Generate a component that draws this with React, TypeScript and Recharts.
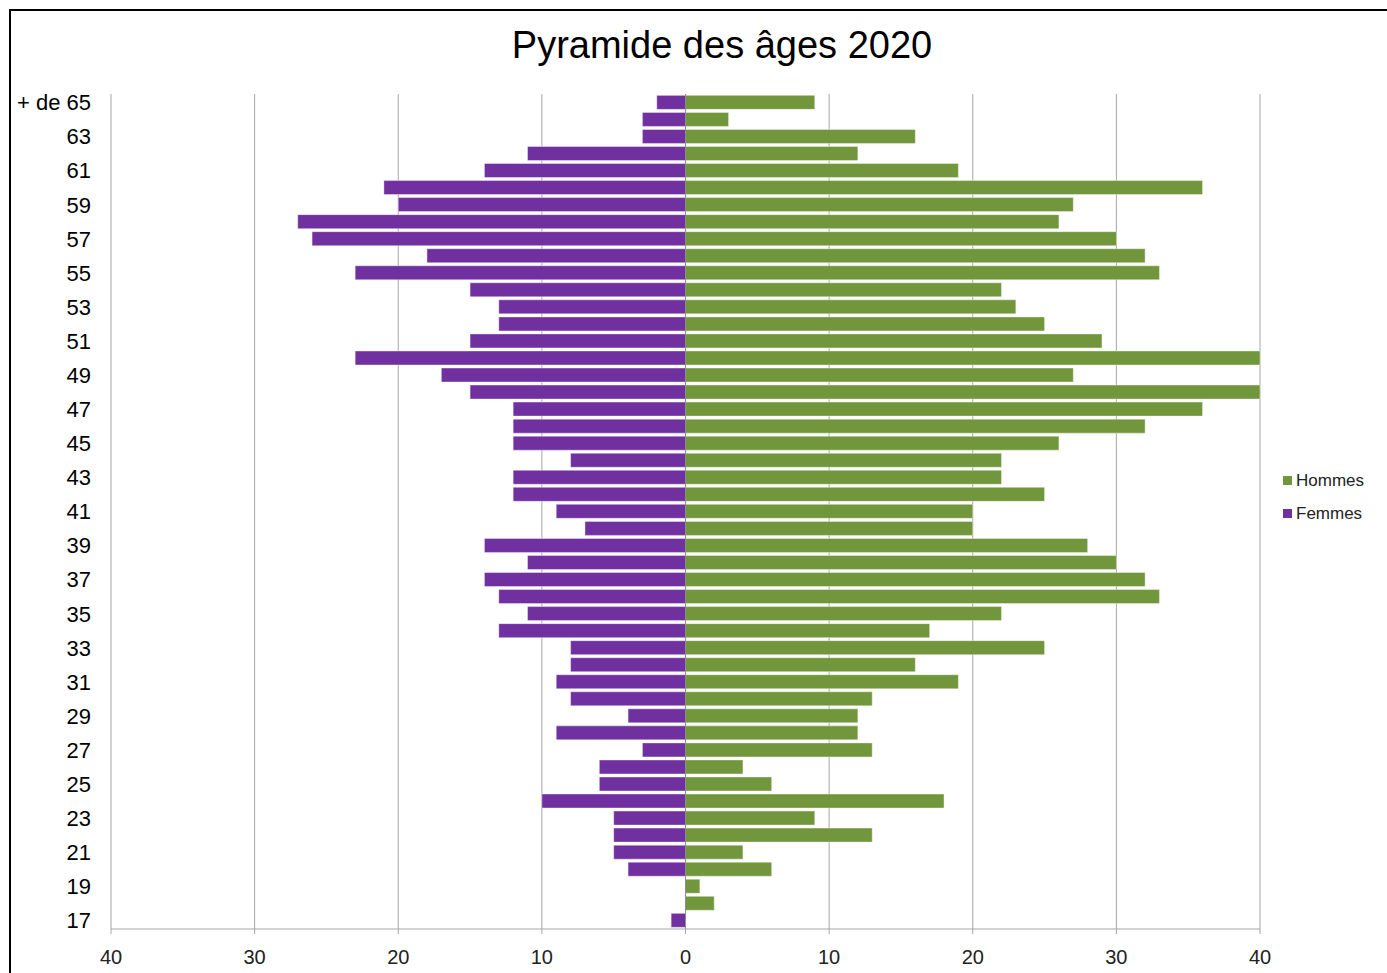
import React from 'react';
import { BarChart, Bar, XAxis, YAxis, CartesianGrid, ReferenceLine, Legend } from 'recharts';

// tranches d'âge, du haut vers le bas
const ages = [
  '+ de 65', '64', '63', '62', '61', '60', '59', '58', '57', '56', '55', '54', '53', '52', '51', '50',
  '49', '48', '47', '46', '45', '44', '43', '42', '41', '40', '39', '38', '37', '36', '35', '34',
  '33', '32', '31', '30', '29', '28', '27', '26', '25', '24', '23', '22', '21', '20', '19', '18', '17',
];

const hommes = [
  9, 3, 16, 12, 19, 36, 27, 26, 30, 32, 33, 22, 23, 25, 29, 40,
  27, 40, 36, 32, 26, 22, 22, 25, 20, 20, 28, 30, 32, 33, 22, 17,
  25, 16, 19, 13, 12, 12, 13, 4, 6, 18, 9, 13, 4, 6, 1, 2, 0,
];

const femmes = [
  2, 3, 3, 11, 14, 21, 20, 27, 26, 18, 23, 15, 13, 13, 15, 23,
  17, 15, 12, 12, 12, 8, 12, 12, 9, 7, 14, 11, 14, 13, 11, 13,
  8, 8, 9, 8, 4, 9, 3, 6, 6, 10, 5, 5, 5, 4, 0, 0, 1,
];

const xTicks = [-40, -30, -20, -10, 0, 10, 20, 30, 40];

const GREEN = '#71963c';
const PURPLE = '#7030a0';

const data = ages.map((age, i) => ({
  age,
  hommes: hommes[i],
  femmes: -femmes[i],
}));

const LegendBox = () => (
  <div style={{ fontFamily: 'Liberation Sans, Arial, sans-serif', fontSize: 17, color: '#222' }}>
    {[
      { name: 'Hommes', color: GREEN },
      { name: 'Femmes', color: PURPLE },
    ].map(item => (
      <div key={item.name} style={{ display: 'flex', alignItems: 'center', height: 33 }}>
        <span style={{ width: 9, height: 9, background: item.color, marginRight: 4, display: 'inline-block' }} />
        {item.name}
      </div>
    ))}
  </div>
);

export default function App() {
  return (
    <div style={{ position: 'absolute', left: 0, top: 0, width: 1387, height: 973, overflow: 'hidden', background: '#fff' }}>
      <div
        style={{
          position: 'absolute',
          left: 9,
          top: 9,
          width: 1500,
          height: 1100,
          borderLeft: '2px solid #000',
          borderTop: '2px solid #000',
        }}
      />
      <div
        style={{
          position: 'absolute',
          left: 0,
          width: 1444,
          top: 24,
          textAlign: 'center',
          fontFamily: 'Liberation Sans, Arial, sans-serif',
          fontSize: 38,
          color: '#000',
        }}
      >
        Pyramide des âges 2020
      </div>
      <div style={{ position: 'absolute', left: 0, top: 0 }}>
        <BarChart
          width={1387}
          height={973}
          data={data}
          layout="vertical"
          stackOffset="sign"
          barCategoryGap="8%"
          margin={{ top: 94, right: 127, left: 11, bottom: 14 }}
        >
          <CartesianGrid horizontal={false} vertical stroke="#a6a6a6" />
          <XAxis
            type="number"
            domain={[-40, 40]}
            ticks={xTicks}
            tickFormatter={(v: number) => String(Math.abs(v))}
            height={30}
            tick={{ fill: '#222', fontSize: 20, fontFamily: 'Liberation Sans, Arial, sans-serif' }}
            tickSize={5}
            tickMargin={16}
            stroke="#a6a6a6"
          />
          <YAxis
            type="category"
            dataKey="age"
            width={100}
            interval={1}
            axisLine={false}
            tickLine={false}
            tickSize={0}
            tickMargin={20}
            tick={{ fill: '#000', fontSize: 22, fontFamily: 'Liberation Sans, Arial, sans-serif' }}
          />
          <ReferenceLine x={0} stroke="#8c8c8c" />
          <Legend
            layout="vertical"
            align="center"
            verticalAlign="middle"
            wrapperStyle={{ left: 1283, top: 464, width: 100 }}
            content={() => <LegendBox />}
          />
          <Bar dataKey="femmes" stackId="a" fill={PURPLE} stroke="rgba(255,255,255,0.4)" isAnimationActive={false} />
          <Bar dataKey="hommes" stackId="a" fill={GREEN} stroke="rgba(255,255,255,0.4)" isAnimationActive={false} />
        </BarChart>
      </div>
    </div>
  );
}
